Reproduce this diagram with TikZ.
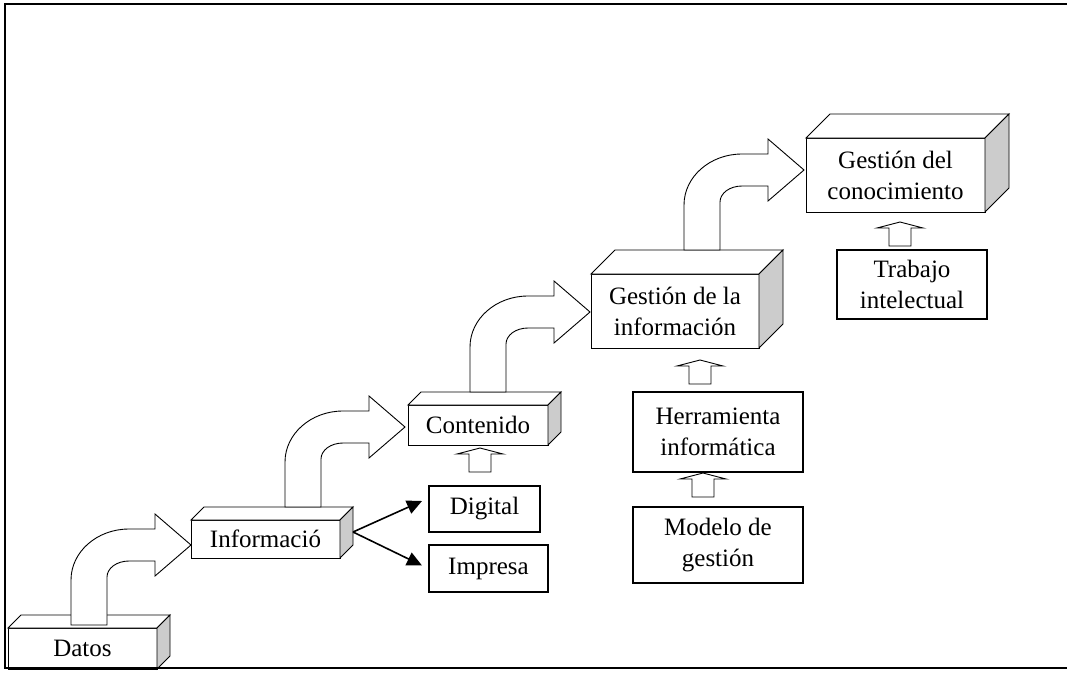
\documentclass[tikz,border=0pt]{standalone}
\usepackage{fontspec}
\setmainfont{Liberation Serif}
\usetikzlibrary{arrows.meta,calc}
\definecolor{sidegray}{RGB}{204,204,204}
\tikzset{
  lbl/.style={font=\fontsize{25}{31}\selectfont, align=center, inner sep=0pt, outer sep=0pt},
  cubefront/.style={lbl, draw, fill=white, line width=0.9pt},
  plainbox/.style={lbl, draw, fill=white, line width=1.7pt},
  faceline/.style={draw, line width=0.9pt, line join=miter},
  blockline/.style={draw, fill=white, line width=0.9pt, line join=miter},
  forkline/.style={line width=1.6pt, -{Triangle[length=15pt,width=14pt]}},
  % bent block arrow, placed by its tip
  bentarrow/.pic={
    \path[blockline] (-120,80) -- (-120,35)
      .. controls (-120,6.8) and (-94,-16) .. (-62,-16)
      -- (-36,-16) -- (-36,-31) -- (0,0) -- (-36,31) -- (-36,16) -- (-62,16)
      .. controls (-74.2,16) and (-84,23.2) .. (-84,32)
      -- (-84,80) -- cycle;
  },
  % small upward block arrow, placed by its tip
  uparrowpic/.pic={
    \path[blockline] (0,0) -- (23,6) -- (11,6) -- (11,24) -- (-11,24) -- (-11,6) -- (-23,6) -- cycle;
  }
}
% top and side faces of a box drawn around a front node
\newcommand\cuboidfaces[2]{%
  \path[faceline, fill=white] (#1.north west) -- ++(#2,-#2)
    -- ([shift={(#2,-#2)}]#1.north east) -- (#1.north east) -- cycle;
  \path[faceline, fill=sidegray] (#1.north east) -- ++(#2,-#2)
    -- ([shift={(#2,-#2)}]#1.south east) -- (#1.south east) -- cycle;
}
\begin{document}
\begin{tikzpicture}[x=1pt,y=-1pt]
\useasboundingbox (0,0) rectangle (1067,674);
\fill[white] (0,0) rectangle (1067,674);

% stepped boxes
\node[cubefront, minimum width=149pt, minimum height=41pt] (datos) at (82.5,648.5) {Datos};
\cuboidfaces{datos}{13}
\node[cubefront, minimum width=149pt, minimum height=38pt] (info) at (265.5,539) {Informació};
\cuboidfaces{info}{13}
\node[cubefront, minimum width=140pt, minimum height=40pt] (cont) at (478,425) {Contenido};
\cuboidfaces{cont}{13}
\node[cubefront, minimum width=168pt, minimum height=74pt] (ginfo) at (675,311) {Gestión de la\\información};
\cuboidfaces{ginfo}{24}
\node[cubefront, minimum width=179pt, minimum height=74pt] (gcon) at (895.5,175) {Gestión del\\conocimiento};
\cuboidfaces{gcon}{24}

% supporting boxes
\node[plainbox, minimum width=111pt, minimum height=46pt] (dig) at (484.5,509) {Digital};
\node[plainbox, minimum width=119pt, minimum height=47pt] (imp) at (488.5,568.5) {Impresa};
\node[plainbox, minimum width=170pt, minimum height=80pt] (herr) at (718,432) {Herramienta\\informática};
\node[plainbox, minimum width=170pt, minimum height=76pt] (model) at (718,545) {Modelo de\\gestión};
\node[plainbox, minimum width=150pt, minimum height=69pt] (trab) at (912,284.5) {Trabajo\\intelectual};

% bent arrows between the steps
\pic at ($(info.west)+(0,6)$) {bentarrow};
\pic at ($(cont.west)+(-3,2)$) {bentarrow};
\pic at ($(ginfo.west)+(-1,1)$) {bentarrow};
\pic at ($(gcon.west)+(-2,-5)$) {bentarrow};

% small upward arrows
\pic at ($(cont.south)+(2,3)$) {uparrowpic};
\pic at ($(ginfo.south)+(25,12)$) {uparrowpic};
\pic at ($(herr.south)+(-15,1)$) {uparrowpic};
\pic at ($(gcon.south)+(4.5,10)$) {uparrowpic};

% fork from Informació
\coordinate (fork) at ($(info.east)+(13,-7)$);
\draw[forkline] (fork) -- ($(dig.west)+(-7,-8)$);
\draw[forkline] (fork) -- ($(imp.west)+(-7,-3)$);

% frame
\draw[line width=2pt] (1070,4) -- (5,4) -- (5,668) -- (1070,668);
\end{tikzpicture}
\end{document}
